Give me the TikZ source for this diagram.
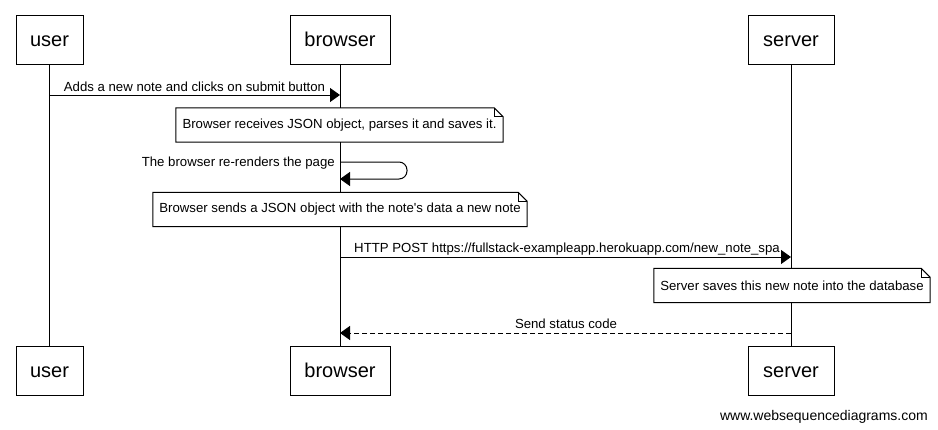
\documentclass[tikz,border=0pt]{standalone}
\usepackage{fontspec}
\setmainfont{Liberation Sans}
\usetikzlibrary{arrows.meta,calc}
\tikzset{
         actor/.style={draw,line width=1pt,minimum height=49pt,inner sep=0pt,
                       text height=14.4pt,text depth=0pt,
                       font=\fontsize{20}{24}\selectfont},
         lifeline/.style={line width=1pt},
         msg/.style={line width=1pt,-{Triangle[length=10pt,width=14pt]}},
         reply/.style={msg,dash pattern=on 5pt off 3pt},
         lbl/.style={inner sep=0pt,font=\fontsize{13.2}{15}\selectfont},
         notebox/.style={fill=white,inner sep=0pt,minimum height=34pt,
                         font=\fontsize{13.2}{15}\selectfont}
        }
% folded corner round a note node
\newcommand{\notefold}[1]{%
  \draw[line width=1pt]($(#1.north east)+(-9,0)$)--(#1.north west)--(#1.south west)
       --(#1.south east)--($(#1.north east)+(0,9)$)--cycle;
  \draw[line width=1pt]($(#1.north east)+(-9,0)$)|-($(#1.north east)+(0,9)$);
}
\begin{document}
\begin{tikzpicture}[x=1pt,y=-1pt]
\useasboundingbox(0,0)rectangle(938,429);
%actors top
\node[actor,minimum width=67pt]at(49.5,39.5)(user){user};
\node[actor,minimum width=100pt]at(340,39.5)(browser){browser};
\node[actor,minimum width=86pt]at(791,39.5)(server){server};
%actors bottom
\node[actor,minimum width=67pt]at(49.5,370.5)(userb){user};
\node[actor,minimum width=100pt]at(340,370.5)(browserb){browser};
\node[actor,minimum width=86pt]at(791,370.5)(serverb){server};
%lifelines
\draw[lifeline](user)--(userb);
\draw[lifeline](browser)--(browserb);
\draw[lifeline](server)--(serverb);
%points on the lifelines
\coordinate(submitu)at(49.5,95);
\coordinate(submitb)at(340,95);
\coordinate(renderb)at(340,162);
\coordinate(rendera)at(407,162);
\coordinate(renderc)at(407,179);
\coordinate(renderd)at(340,179);
\coordinate(postb)at(340,257);
\coordinate(posts)at(791,257);
\coordinate(statuss)at(791,333);
\coordinate(statusb)at(340,333);
%messages
\draw[msg](submitu)--(submitb);
\node[lbl,anchor=base]at(194.5,91)(submit){Adds a new note and clicks on submit button};
\draw[msg,rounded corners=8pt](renderb)--(rendera)--(renderc)--(renderd);
\node[lbl,anchor=base east]at(335,166)(render){The browser re-renders the page};
\draw[msg](postb)--(posts);
\node[lbl,anchor=base]at(567,252)(post){HTTP POST https://fullstack-exampleapp.herokuapp.com/new\_note\_spa};
\draw[reply](statuss)--(statusb);
\node[lbl,anchor=base]at(566,328)(status){Send status code};
%notes
\node[notebox,minimum width=327pt]at(339.5,125)(receive){Browser receives JSON object, parses it and saves it.};
\notefold{receive}
\node[notebox,minimum width=374pt]at(340,209.5)(send){Browser sends a JSON object with the note\textquotesingle s data a new note};
\notefold{send}
\node[notebox,minimum width=276pt]at(792,285.5)(save){Server saves this new note into the database};
\notefold{save}
%watermark
\node[inner sep=0pt,anchor=base east,font=\fontsize{14}{16}\selectfont]at(928,420)(wsd){www.websequencediagrams.com};
\end{tikzpicture}
\end{document}
